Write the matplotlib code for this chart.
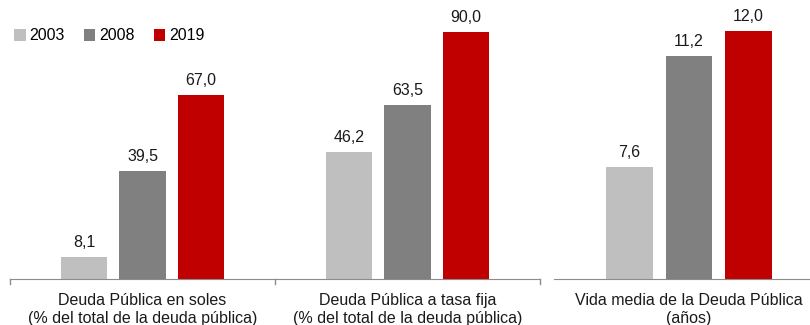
import matplotlib.pyplot as plt
from matplotlib.patches import Patch
import numpy as np

plt.rcParams['font.family'] = ['Liberation Sans', 'DejaVu Sans']

years = ['2003', '2008', '2019']
colors = ['#BFBFBF', '#808080', '#C00000']

# percent panels
pct_labels = ['Deuda Pública en soles\n(% del total de la deuda pública)',
              'Deuda Pública a tasa fija\n(% del total de la deuda pública)']
pct_2003 = [8.1, 46.2]
pct_2008 = [39.5, 63.5]
pct_2019 = [67.0, 90.0]

# average life panel
life_label = ['Vida media de la Deuda Pública\n(años)']
life_2003 = [7.6]
life_2008 = [11.2]
life_2019 = [12.0]

W, H = 810, 325
fig = plt.figure(figsize=(W / 100, H / 100), dpi=100)
base = 279
ax1 = fig.add_axes([10 / W, (H - base) / H, 530 / W, base / H])
ax2 = fig.add_axes([554 / W, (H - base) / H, 270 / W, base / H])

axis_color = '#8C8C8C'
fs = 11.5
bw = 0.174
step = 0.22


def fmt(v):
    return f'{v:.1f}'.replace('.', ',')


def draw(ax, labels, series, ylim, xlim):
    x = np.arange(len(labels))
    for i, vals in enumerate(series):
        pos = x + (i - 1) * step
        bars = ax.bar(pos, vals, width=bw, color=colors[i], zorder=2)
        for b, v in zip(bars, vals):
            ax.annotate(fmt(v), (b.get_x() + b.get_width() / 2, v),
                        xytext=(0, 5), textcoords='offset points',
                        ha='center', va='bottom', fontsize=fs, color='#1a1a1a')
    ax.set_ylim(*ylim)
    ax.set_xlim(*xlim)
    ax.set_yticks([])
    for s in ['top', 'right', 'left']:
        ax.spines[s].set_visible(False)
    ax.spines['bottom'].set_color(axis_color)
    ax.set_xticks(x)
    ax.set_xticklabels(labels, fontsize=fs, color='#1a1a1a', linespacing=1.25)
    ax.tick_params(axis='x', length=0, pad=10)
    ax.patch.set_alpha(0)


draw(ax1, pct_labels, [pct_2003, pct_2008, pct_2019], (0, 101.8), (-0.5, 1.5))
draw(ax2, life_label, [life_2003, life_2008, life_2019], (4, 13.0), (-0.5, 0.5))

# small separator ticks under the first axis
for xv in [-0.5, 0.5, 1.5]:
    ax1.plot([xv, xv], [0, -1.8], color=axis_color, lw=1, clip_on=False)

handles = [Patch(facecolor=c, label=y) for c, y in zip(colors, years)]
fig.legend(handles=handles, loc='center left', bbox_to_anchor=(8 / W, 1 - 36 / H),
           ncol=3, frameon=False, fontsize=fs, handlelength=0.7, handleheight=0.7,
           handletextpad=0.25, columnspacing=1.2, borderaxespad=0)

fig.savefig('out.png', dpi=100)
